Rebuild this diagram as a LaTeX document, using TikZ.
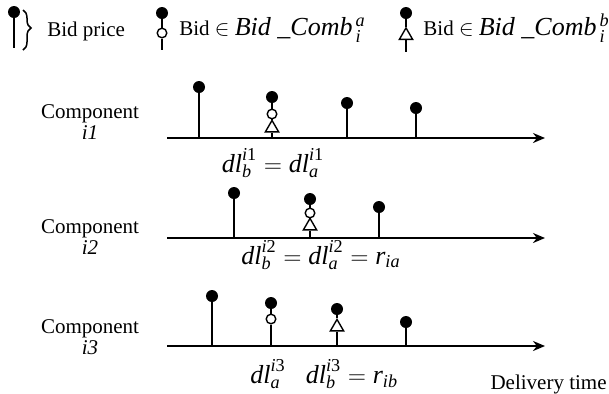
\documentclass[tikz,border=0pt]{standalone}
\usepackage{amsmath}
\usepackage{fontspec}
\setmainfont{Liberation Serif}
\usetikzlibrary{arrows.meta, shapes.geometric, decorations.pathreplacing}

\newcommand{\dlv}[2]{\textit{dl}_{\textit{#1}}^{\textit{i}\textup{#2}}}

\begin{document}
\begin{tikzpicture}[x=0.5pt, y=-0.5pt,
    bid/.style={circle, fill, inner sep=0pt, minimum size=6pt},
    combA/.style={circle, draw, fill=white, inner sep=0pt, minimum size=4.8pt, line width=0.7pt},
    combB/.style={regular polygon, regular polygon sides=3, draw, fill=white, inner sep=0pt, minimum size=7.6pt, line width=0.7pt},
    stem/.style={line width=0.75pt},
    taxis/.style={line width=1.1pt, -{Stealth[length=6pt, width=5pt]}},
    comp/.style={align=center, font=\fontsize{10.5}{10.5}\selectfont},
    lab/.style={font=\fontsize{13}{13}\selectfont, inner sep=0pt},
    leg/.style={font=\fontsize{10.5}{12}\selectfont, inner sep=0pt}]

    \useasboundingbox (0,0) rectangle (609,393);

    % Legende
    \node[bid] (lp) at (14,12) {};
    \coordinate (lp0) at (14,48);
    \draw[stem] (lp) -- (lp0);
    \coordinate (bt) at (23,10);
    \coordinate (bb) at (23,50);
    \draw[stem, decorate, decoration={brace, amplitude=4pt, aspect=0.45}] (bt) -- (bb);
    \node[leg, anchor=base west] (lbp) at (47,36) {Bid price};

    \node[bid] (la) at (162,13) {};
    \node[combA] (la1) at (162,33) {};
    \coordinate (la0) at (162,50);
    \draw[stem] (la) -- (la1) -- (la0);
    \node[leg, anchor=base west] (lta) at (179,35)
        {Bid $\in$ {\fontsize{13}{13}\selectfont\textit{Bid \_Comb}${}_{\,\textit{i}}^{\,\textit{a}}$}};

    \node[bid] (lb) at (406,13) {};
    \node[combB] (lb1) at (406,35.5) {};
    \coordinate (lb0) at (406,52);
    \draw[stem] (lb) -- (lb1) -- (lb0);
    \node[leg, anchor=base west] (ltb) at (423,35)
        {Bid $\in$ {\fontsize{13}{13}\selectfont\textit{Bid \_Comb}${}_{\,\textit{i}}^{\,\textit{b}}$}};

    % Composant i1
    \node[comp] (c1) at (90,122.5) {Component\\\textit{i1}};
    \coordinate (s1) at (167,138);
    \coordinate (e1) at (545,138);
    \draw[taxis] (s1) -- (e1);
    \node[bid] (p11) at (199,87) {};
    \node[bid] (p12) at (272,97) {};
    \node[combA] (a12) at (272,114) {};
    \node[combB] (b12) at (272,128) {};
    \node[bid] (p13) at (347,103) {};
    \node[bid] (p14) at (416,108) {};
    \draw[stem] (p11) -- (p11 |- s1);
    \draw[stem] (p12) -- (a12) -- (b12) -- (b12 |- s1);
    \draw[stem] (p13) -- (p13 |- s1);
    \draw[stem] (p14) -- (p14 |- s1);
    \node[lab, anchor=base] (d1) at (273,172) {$\dlv{b}{1} = \dlv{a}{1}$};

    % Composant i2
    \node[comp] (c2) at (90,237.5) {Component\\\textit{i2}};
    \coordinate (s2) at (167,238);
    \coordinate (e2) at (545,238);
    \draw[taxis] (s2) -- (e2);
    \node[bid] (p21) at (234,193) {};
    \node[bid] (p22) at (310,199) {};
    \node[combA] (a22) at (310,213) {};
    \node[combB] (b22) at (310,226) {};
    \node[bid] (p23) at (379,207) {};
    \draw[stem] (p21) -- (p21 |- s2);
    \draw[stem] (p22) -- (a22) -- (b22) -- (b22 |- s2);
    \draw[stem] (p23) -- (p23 |- s2);
    \node[lab, anchor=base] (d2) at (321,264) {$\dlv{b}{2} = \dlv{a}{2} = \textit{r}_{\textit{ia}}$};

    % Composant i3
    \node[comp] (c3) at (90,337.5) {Component\\\textit{i3}};
    \coordinate (s3) at (167,346);
    \coordinate (e3) at (545,346);
    \draw[taxis] (s3) -- (e3);
    \node[bid] (p31) at (212,296) {};
    \node[bid] (p32) at (271,303) {};
    \node[combA] (a32) at (271,319) {};
    \node[bid] (p33) at (337,309) {};
    \node[combB] (b33) at (337,327) {};
    \node[bid] (p34) at (406,322) {};
    \draw[stem] (p31) -- (p31 |- s3);
    \draw[stem] (p32) -- (a32) -- (a32 |- s3);
    \draw[stem] (p33) -- (b33) -- (b33 |- s3);
    \draw[stem] (p34) -- (p34 |- s3);
    \node[lab, anchor=base] (d3a) at (268,383) {$\dlv{a}{3}$};
    \node[lab, anchor=base] (d3b) at (352,383) {$\dlv{b}{3} = \textit{r}_{\textit{ib}}$};
    \node[leg, anchor=base east] (dt) at (607,389) {Delivery time};

\end{tikzpicture}
\end{document}
